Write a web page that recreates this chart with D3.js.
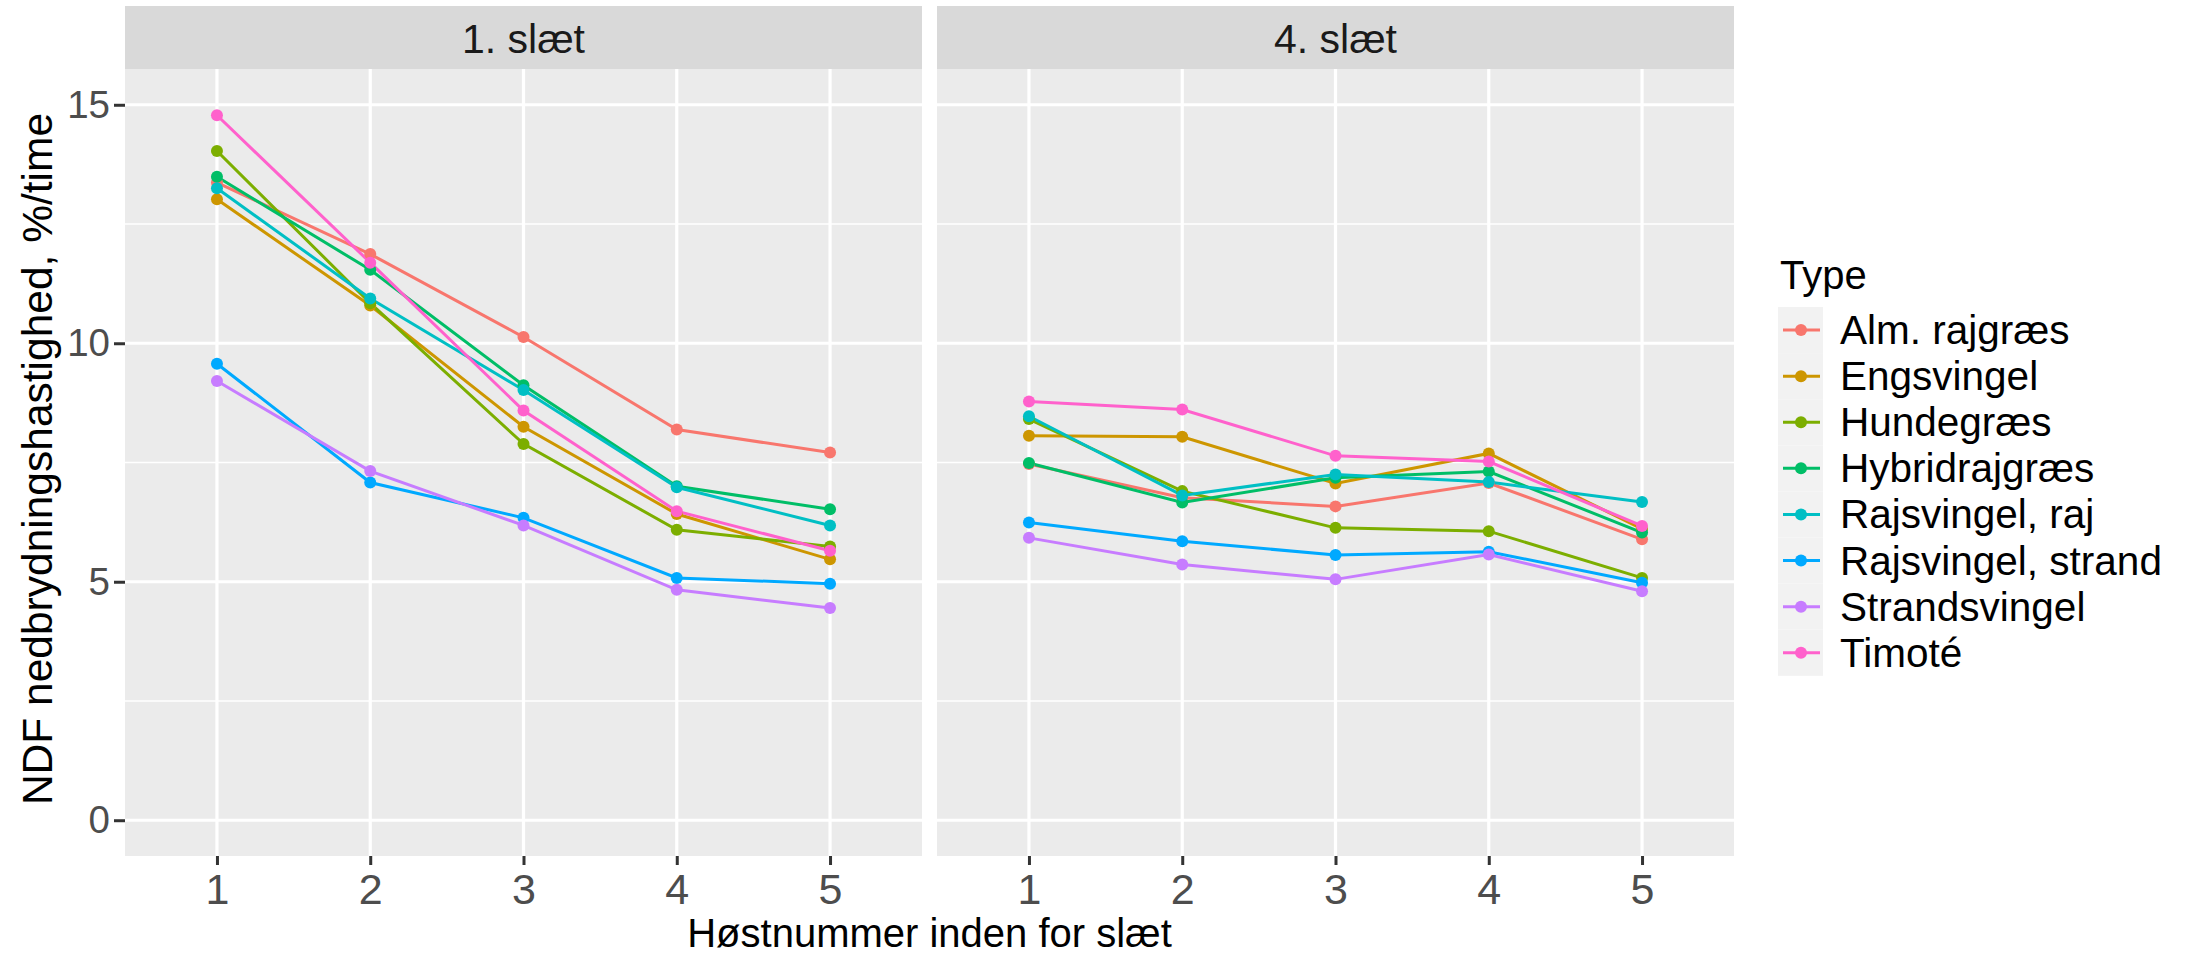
<!DOCTYPE html>
<html>
<head>
<meta charset="utf-8">
<script src="https://cdn.jsdelivr.net/npm/d3@7"></script>
<style>
  body { margin: 0; background: #fff; }
  svg { display: block; font-family: "Liberation Sans", Arial, sans-serif; }
</style>
</head>
<body>
<svg id="chart" width="2193" height="957"></svg>
<script>
// data
var types = ["Alm. rajgræs", "Engsvingel", "Hundegræs", "Hybridrajgræs",
             "Rajsvingel, raj", "Rajsvingel, strand", "Strandsvingel", "Timoté"];
var colors = ["#F8766D", "#CD9600", "#7CAE00", "#00BE67",
              "#00BFC4", "#00A9FF", "#C77CFF", "#FF61CC"];
var harvests = [1, 2, 3, 4, 5];
var facets = ["1. slæt", "4. slæt"];

// one row per type, one value per harvest
var slaet1 = [
  [13.37, 11.87, 10.13, 8.19, 7.71],
  [13.02, 10.79, 8.25, 6.42, 5.47],
  [14.03, 10.84, 7.89, 6.09, 5.74],
  [13.49, 11.54, 9.12, 7.00, 6.52],
  [13.25, 10.94, 9.02, 6.98, 6.18],
  [9.57, 7.08, 6.34, 5.08, 4.96],
  [9.21, 7.32, 6.18, 4.83, 4.45],
  [14.78, 11.69, 8.59, 6.48, 5.65]
];
var slaet4 = [
  [7.47, 6.76, 6.58, 7.07, 5.89],
  [8.06, 8.04, 7.06, 7.69, 6.11],
  [8.41, 6.90, 6.13, 6.06, 5.08],
  [7.49, 6.66, 7.18, 7.31, 6.03],
  [8.47, 6.81, 7.25, 7.09, 6.67],
  [6.24, 5.85, 5.56, 5.63, 4.98],
  [5.92, 5.36, 5.05, 5.57, 4.80],
  [8.78, 8.61, 7.64, 7.52, 6.17]
];
var facetData = [slaet1, slaet4];

var yTicks = [0, 5, 10, 15];
var yMinor = [2.5, 7.5, 12.5];

var xTitle = "Høstnummer inden for slæt";
var yTitle = "NDF nedbrydningshastighed, %/time";
var legendTitle = "Type";

var svg = d3.select("#chart");

var panelTop = 69, panelBottom = 856;
var panelLefts = [125, 937];
var panelWidth = 797;
var stripTop = 6;

var y = d3.scaleLinear().domain([-0.75, 15.75]).range([panelBottom, panelTop]);

var line = d3.line();

facets.forEach(function(name, fi){
  var left = panelLefts[fi];
  var x = d3.scalePoint().domain(harvests).range([left, left + panelWidth]).padding(0.6);
  var g = svg.append("g");

  // strip
  g.append("rect")
    .attr("x", left).attr("y", stripTop)
    .attr("width", panelWidth).attr("height", panelTop - stripTop)
    .attr("fill", "#D9D9D9");
  g.append("text")
    .attr("x", left + panelWidth / 2).attr("y", 53)
    .attr("text-anchor", "middle")
    .attr("font-size", 41)
    .attr("fill", "#1A1A1A")
    .text(name);

  // panel background
  g.append("rect")
    .attr("x", left).attr("y", panelTop)
    .attr("width", panelWidth).attr("height", panelBottom - panelTop)
    .attr("fill", "#EBEBEB");

  // grid
  g.selectAll("line.minor").data(yMinor).enter().append("line")
    .attr("x1", left).attr("x2", left + panelWidth)
    .attr("y1", function(d){ return y(d); })
    .attr("y2", function(d){ return y(d); })
    .attr("stroke", "#fff").attr("stroke-width", 1.6);
  g.selectAll("line.majorY").data(yTicks).enter().append("line")
    .attr("x1", left).attr("x2", left + panelWidth)
    .attr("y1", function(d){ return y(d); })
    .attr("y2", function(d){ return y(d); })
    .attr("stroke", "#fff").attr("stroke-width", 3.2);
  g.selectAll("line.majorX").data(harvests).enter().append("line")
    .attr("x1", function(d){ return x(d); })
    .attr("x2", function(d){ return x(d); })
    .attr("y1", panelTop).attr("y2", panelBottom)
    .attr("stroke", "#fff").attr("stroke-width", 3.2);

  // x axis
  var xAxis = g.append("g")
    .attr("transform", "translate(0," + panelBottom + ")")
    .call(d3.axisBottom(x).tickSize(9).tickPadding(8));
  xAxis.select(".domain").remove();
  xAxis.selectAll(".tick line").attr("stroke", "#333").attr("stroke-width", 3);
  xAxis.selectAll(".tick text")
    .attr("font-size", 43).attr("fill", "#4D4D4D")
    .attr("font-family", "Liberation Sans, Arial, sans-serif");

  // y axis only on the first panel
  if (fi == 0){
    var yAxis = g.append("g")
      .attr("transform", "translate(" + left + ",0)")
      .call(d3.axisLeft(y).tickValues(yTicks).tickSize(11).tickPadding(4));
    yAxis.select(".domain").remove();
    yAxis.selectAll(".tick line").attr("stroke", "#333").attr("stroke-width", 3);
    yAxis.selectAll(".tick text")
      .attr("font-size", 38.5).attr("fill", "#4D4D4D")
      .attr("font-family", "Liberation Sans, Arial, sans-serif");
  }

  // lines first, then points (like geom_line + geom_point)
  var rows = facetData[fi];
  g.selectAll("path.series").data(rows).enter().append("path")
    .attr("d", function(vals){
      return line(vals.map(function(v, i){ return [x(harvests[i]), y(v)]; }));
    })
    .attr("fill", "none")
    .attr("stroke", function(d, i){ return colors[i]; })
    .attr("stroke-width", 3);

  rows.forEach(function(vals, ti){
    g.selectAll(null).data(vals).enter().append("circle")
      .attr("cx", function(v, i){ return x(harvests[i]); })
      .attr("cy", function(v){ return y(v); })
      .attr("r", 6)
      .attr("fill", colors[ti]);
  });
});

// axis titles
svg.append("text")
  .attr("x", (panelLefts[0] + panelLefts[1] + panelWidth) / 2)
  .attr("y", 947)
  .attr("text-anchor", "middle")
  .attr("font-size", 40)
  .attr("fill", "#000")
  .text(xTitle);

svg.append("text")
  .attr("transform", "translate(52,459) rotate(-90)")
  .attr("text-anchor", "middle")
  .attr("font-size", 42.5)
  .attr("fill", "#000")
  .text(yTitle);

// legend
var legend = svg.append("g").attr("transform", "translate(1778,0)");
legend.append("text")
  .attr("x", 2).attr("y", 289)
  .attr("font-size", 40)
  .attr("fill", "#000")
  .text(legendTitle);

var keyH = 46.1, keyW = 45, keyTop = 307;
var keys = legend.selectAll("g.key").data(types).enter().append("g")
  .attr("transform", function(d, i){ return "translate(0," + (keyTop + i * keyH) + ")"; });
keys.append("rect")
  .attr("width", keyW).attr("height", keyH)
  .attr("fill", "#F2F2F2");
keys.append("line")
  .attr("x1", 5).attr("x2", keyW - 3)
  .attr("y1", keyH / 2).attr("y2", keyH / 2)
  .attr("stroke", function(d, i){ return colors[i]; })
  .attr("stroke-width", 3);
keys.append("circle")
  .attr("cx", 23).attr("cy", keyH / 2).attr("r", 6)
  .attr("fill", function(d, i){ return colors[i]; });
keys.append("text")
  .attr("x", 62).attr("y", keyH / 2 + 14)
  .attr("font-size", 40.5)
  .attr("fill", "#000")
  .text(function(d){ return d; });
</script>
</body>
</html>
